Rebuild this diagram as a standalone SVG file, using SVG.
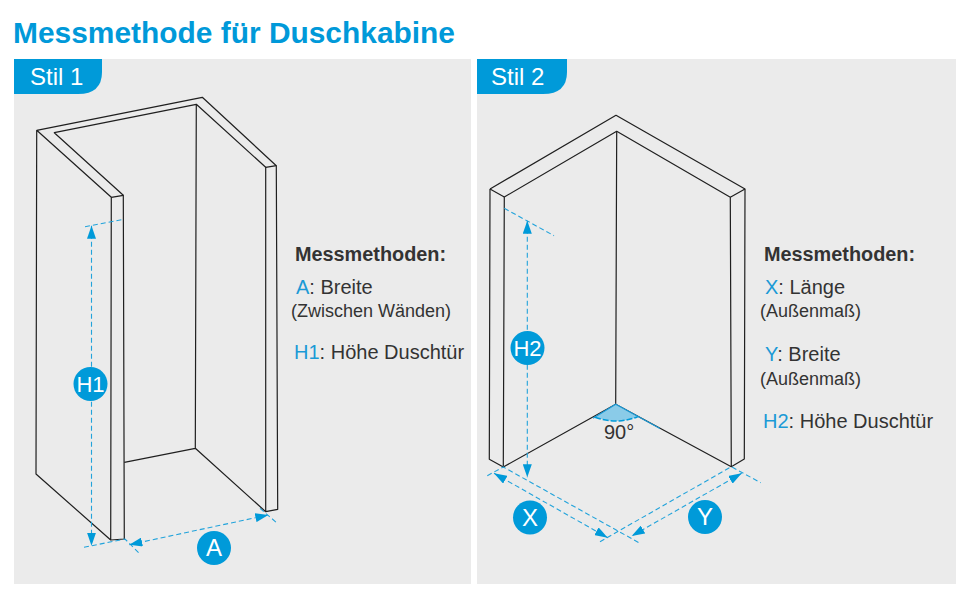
<svg xmlns="http://www.w3.org/2000/svg" width="970" height="600" viewBox="0 0 970 600">
<style>
text{font-family:"Liberation Sans",Arial,sans-serif}
.panel{fill:#ebebeb}
.tab{fill:#009ad9}
.tabt{fill:#fff;font-size:24px}
.wall{fill:none;stroke:#1f1f1f;stroke-width:1.2;stroke-linejoin:round}
.dash{fill:none;stroke:#22a3db;stroke-width:1.1;stroke-dasharray:5 3}
.arr{fill:none;stroke:#22a3db;stroke-width:1.1;stroke-dasharray:5 3;marker-start:url(#a);marker-end:url(#a)}
.c{fill:#009ad9}
.ct{fill:#fff;font-size:24px;text-anchor:middle}
.h{fill:#333;font-size:20px;font-weight:bold}
.t{fill:#333;font-size:20px}
.s{fill:#333;font-size:18px}
.b{fill:#1b9ad6}
</style>
<defs>
<marker id="a" viewBox="0 0 13 9" refX="13" refY="4.5" markerWidth="13" markerHeight="9" markerUnits="userSpaceOnUse" orient="auto-start-reverse"><path d="M0 0L13 4.5L0 9Z" fill="#009ad9"/></marker>
</defs>
<rect width="970" height="600" fill="#fff"/>
<text x="13" y="43" font-size="29" font-weight="bold" fill="#0099d9" textLength="442" lengthAdjust="spacingAndGlyphs">Messmethode für Duschkabine</text>
<g id="panel1">
<rect class="panel" x="14" y="59" width="457" height="525"/>
<path class="tab" d="M14 59H102V72Q102 94 78 94H14Z"/>
<text class="tabt" x="30" y="85">Stil 1</text>
</g>
<g id="panel2">
<rect class="panel" x="477" y="59" width="479" height="525"/>
<path class="tab" d="M477 59H567V72Q567 94 543 94H477Z"/>
<text class="tabt" x="491" y="85">Stil 2</text>
</g>
<g id="cabin1">
<path class="wall" d="M36.7 130.3L202.3 97.3L276.3 165.7L277.7 509.3L265.7 511.7L265.7 167.3L196.3 104.3L54.3 132.7L123.3 195.3L124.3 539L110.7 540L111.3 197.3L36.7 130.3L36 474L110.7 540"/>
<path class="wall" d="M111.3 197.3L123.3 195.3M265.7 167.3L276.3 165.7M196.3 104.3L195.3 448.3L124.3 462.3M195.3 448.3L265.7 511.7"/>
</g>
<g id="cabin2">
<path class="wall" d="M490 189L616 115.3L745 189L744.3 459L731.3 466.7L730.3 197.3L616.7 131.3L504.3 197L503.3 467L489.3 459.3L490 189"/>
<path class="wall" d="M490 189L504.3 197M745 189L730.3 197.3M616.7 131.3L615.7 404.3M503.3 467L615.7 404.3L731.3 466.7"/>
</g>
<g id="connectors">
<path class="dash" d="M85 226.7L124 219.3M84 547.3L125 539L140.7 554.7M260 508.3L277.3 523.3"/>
<path class="arr" d="M91.5 225.7V545.7"/>
<path class="arr" d="M129.3 544.7L268.3 515"/>
<path class="dash" d="M504.3 208.3L554 235.7M487.3 475.7L503.3 467L640 543.3M600 541.7L731.3 466.7L760.7 482.7"/>
<path class="arr" d="M527.3 220.7V477.3"/>
<path class="arr" d="M494 473.3L607.7 537.7"/>
<path class="arr" d="M741.7 473.3L631.7 536"/>
<path d="M595 417.3L615.7 404.3L637.7 416.7Q616.7 425 595 417.3Z" fill="#8acbe8"/>
<path d="M593 418.3L615.7 404.3L660 428.5" fill="none" stroke="#1b9ad6" stroke-width="1.3"/>
<path d="M595 417.3Q616.7 425 637.7 416.7" fill="none" stroke="#009ad9" stroke-width="1.6" stroke-dasharray="6 2"/>
</g>
<g id="H1"><circle class="c" cx="90.5" cy="384" r="17"/><text class="ct" x="90.5" y="392" style="font-size:22px">H1</text></g>
<g id="A"><circle class="c" cx="214" cy="548" r="17"/><text class="ct" x="214" y="556">A</text></g>
<g id="H2"><circle class="c" cx="527.5" cy="348" r="17"/><text class="ct" x="527.5" y="356" style="font-size:22px">H2</text></g>
<g id="X"><circle class="c" cx="530" cy="517.5" r="17"/><text class="ct" x="530" y="526">X</text></g>
<g id="Y"><circle class="c" cx="705" cy="517" r="17"/><text class="ct" x="705" y="525">Y</text></g>
<text class="t" x="604" y="439">90°</text>
<g id="legend1">
<text class="h" x="295" y="261" textLength="151" lengthAdjust="spacingAndGlyphs">Messmethoden:</text>
<text class="t" x="296" y="294"><tspan class="b">A</tspan>: Breite</text>
<text class="s" x="291" y="317">(Zwischen Wänden)</text>
<text class="t" x="294" y="359"><tspan class="b">H1</tspan>: Höhe Duschtür</text>
</g>
<g id="legend2">
<text class="h" x="764" y="261" textLength="151" lengthAdjust="spacingAndGlyphs">Messmethoden:</text>
<text class="t" x="765" y="294"><tspan class="b">X</tspan>: Länge</text>
<text class="s" x="760" y="317">(Außenmaß)</text>
<text class="t" x="765" y="361"><tspan class="b">Y</tspan>: Breite</text>
<text class="s" x="760" y="385">(Außenmaß)</text>
<text class="t" x="763" y="428"><tspan class="b">H2</tspan>: Höhe Duschtür</text>
</g>
</svg>
